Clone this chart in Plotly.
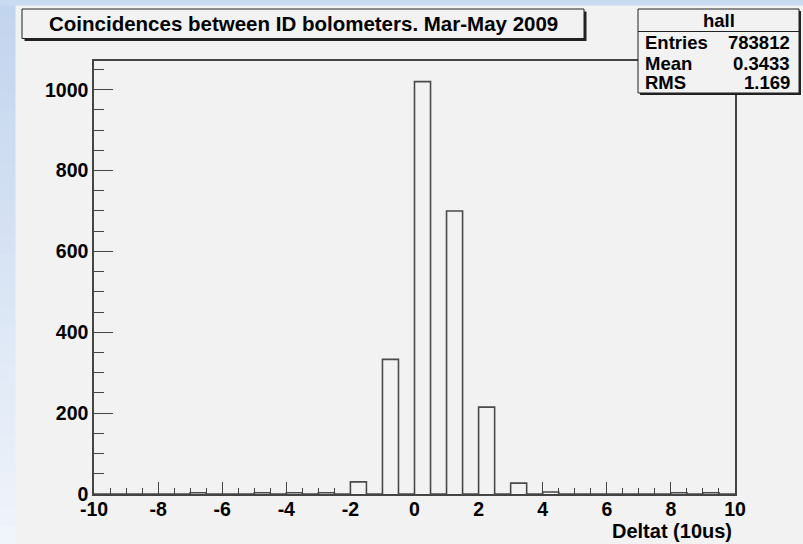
import plotly.graph_objects as go

# ---- data ----
x_min, x_max, n_bins = -10.0, 10.0, 40
bin_left = [-7.0, -5.0, -4.0, -3.0, -2.0, -1.0, 0.0, 1.0, 2.0, 3.0, 4.0, 8.0, 9.0]
bin_count = [3, 3, 3, 3, 30, 333, 1020, 700, 215, 27, 5, 3, 3]
title_text = "Coincidences between ID bolometers. Mar-May 2009"
x_title = "Deltat (10us)"
stats_name = "hall"
stats_rows = [("Entries", "783812"), ("Mean", "0.3433"), ("RMS", "1.169")]
x_ticks = [-10, -8, -6, -4, -2, 0, 2, 4, 6, 8, 10]
x_ticktext = ["-10", "-8", "-6", "-4", "-2", "0", "2", "4", "6", "8", "10"]
y_ticks = [0, 200, 400, 600, 800, 1000]
y_ticktext = ["0", "200", "400", "600", "800", "1000"]

width = (x_max - x_min) / n_bins
counts = [0] * n_bins
for l, c in zip(bin_left, bin_count):
    counts[int(round((l - x_min) / width))] = c
edges = [x_min + i * width for i in range(n_bins + 1)]
y_top = 1.05 * max(counts)

W, H = 803, 544
L, R, T, B = 94, 68, 61, 50
PW, PH = W - L - R, H - T - B

def px(x):
    return (x - L) / PW

def py(y):
    return (H - B - y) / PH

fig = go.Figure()
fig.add_trace(go.Scatter(
    x=edges, y=counts + [0], mode="lines", line_shape="hv",
    line=dict(color="#4a4a4a", width=1.6), hoverinfo="skip", showlegend=False))

FONT = "Liberation Sans, Arial, sans-serif"
shapes = []
# background gradient strips (slide background)
nb = 30
for i in range(nb):
    t = i / (nb - 1)
    r = int(194 + (240 - 194) * t)
    g = int(213 + (244 - 213) * t)
    b = int(238 + (251 - 238) * t)
    col = f"rgb({r},{g},{b})"
    y0 = H * i / nb
    y1 = H * (i + 1) / nb + 1
    shapes.append(dict(type="rect", xref="paper", yref="paper", layer="below",
                       x0=px(0), x1=px(15.5), y0=py(y1), y1=py(y0),
                       fillcolor=col, line=dict(width=0)))
shapes.append(dict(type="rect", xref="paper", yref="paper", layer="below",
                   x0=px(0), x1=px(W), y0=py(5.5), y1=py(0),
                   fillcolor="rgb(200,219,240)", line=dict(width=0)))

def box(x0, y0, x1, y1, sh=2.5):
    shapes.append(dict(type="rect", xref="paper", yref="paper",
                       x0=px(x0 + sh), x1=px(x1 + sh), y0=py(y1 + sh), y1=py(y0 + sh),
                       fillcolor="#222222", line=dict(width=0)))
    shapes.append(dict(type="rect", xref="paper", yref="paper",
                       x0=px(x0), x1=px(x1), y0=py(y1), y1=py(y0),
                       fillcolor="#f2f2f2", line=dict(color="#222222", width=1)))

# title box
box(22, 9, 584, 38.5)
# stats box
SX0, SX1, SY0, SY1 = 638, 799, 9, 93
box(SX0, SY0, SX1, SY1, sh=2)
shapes.append(dict(type="line", xref="paper", yref="paper",
                   x0=px(SX0), x1=px(SX1), y0=py(31.5), y1=py(31.5),
                   line=dict(color="#222222", width=1)))

ann = []
ann.append(dict(text=title_text, x=px(303), y=py(24), xref="paper", yref="paper",
                showarrow=False, xanchor="center", yanchor="middle",
                font=dict(family=FONT, size=20.5, color="black", weight="bold")))
ann.append(dict(text=stats_name, x=px((SX0 + SX1) / 2), y=py(20.5), xref="paper", yref="paper",
                showarrow=False, xanchor="center", yanchor="middle",
                font=dict(family=FONT, size=18.5, color="black", weight="bold")))
for k, (lab, val) in enumerate(stats_rows):
    yy = 43 + 20 * k
    ann.append(dict(text=lab, x=px(SX0 + 5), y=py(yy), xref="paper", yref="paper",
                    showarrow=False, xanchor="left", yanchor="middle",
                    font=dict(family=FONT, size=18.5, color="black", weight="bold")))
    ann.append(dict(text=val, x=px(SX1 - 7), y=py(yy), xref="paper", yref="paper",
                    showarrow=False, xanchor="right", yanchor="middle",
                    font=dict(family=FONT, size=18.5, color="black", weight="bold")))
ann.append(dict(text=x_title, x=px(734), y=py(531), xref="paper", yref="paper",
                showarrow=False, xanchor="right", yanchor="middle",
                font=dict(family=FONT, size=20, color="black", weight="bold")))

tickfont = dict(family=FONT, size=19.5, color="black", weight="bold")
fig.update_layout(
    width=W, height=H, margin=dict(l=L, r=R, t=T, b=B, pad=0),
    paper_bgcolor="#f2f2f2", plot_bgcolor="#f2f2f2",
    shapes=shapes, annotations=ann, showlegend=False,
    xaxis=dict(range=[x_min, x_max], tickvals=x_ticks, ticktext=x_ticktext,
               ticks="inside", ticklen=12,
               tickwidth=1, tickcolor="#444444", showline=True, linecolor="#444444",
               linewidth=1.5, mirror=True, showgrid=False, zeroline=False,
               tickfont=tickfont, ticklabelstandoff=-3,
               minor=dict(dtick=0.5, ticks="inside", ticklen=6, tickcolor="#444444", tickwidth=1)),
    yaxis=dict(range=[0, y_top], tickvals=y_ticks, ticktext=y_ticktext,
               ticks="inside", ticklen=19,
               tickwidth=1, tickcolor="#444444", showline=True, linecolor="#444444",
               linewidth=1.5, mirror=True, showgrid=False, zeroline=False,
               tickfont=tickfont, ticklabelstandoff=0,
               minor=dict(dtick=50, ticks="inside", ticklen=10, tickcolor="#444444", tickwidth=1)),
)
fig.write_html("out.html")
